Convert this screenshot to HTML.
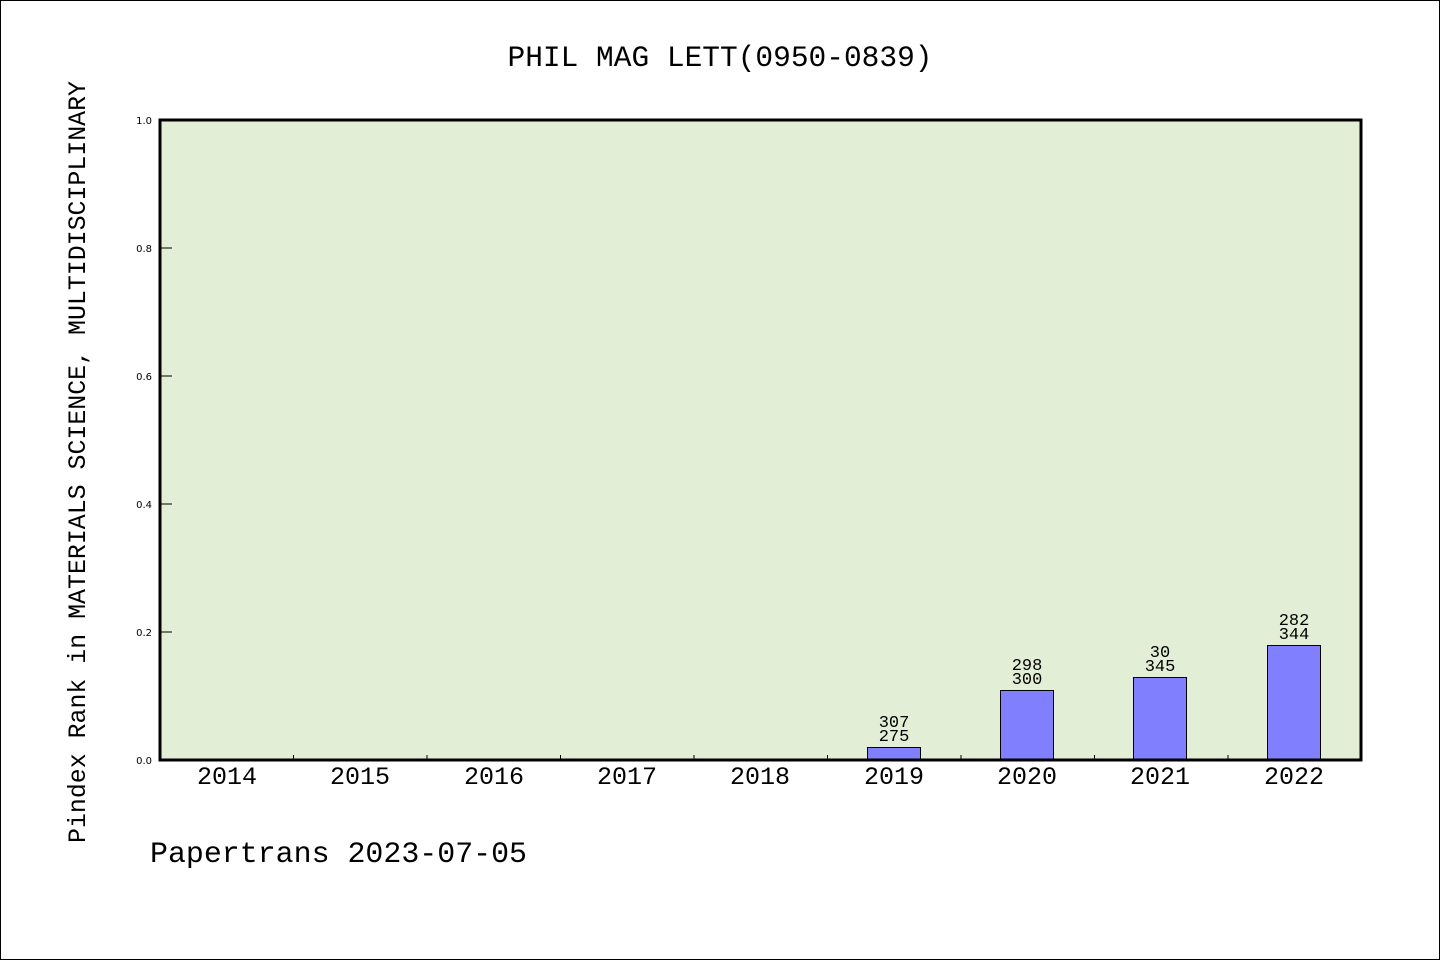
<!DOCTYPE html>
<html><head><meta charset="utf-8"><style>html,body{margin:0;padding:0;background:#fff}svg{display:block}</style></head>
<body>
<svg width="1440" height="960" xmlns="http://www.w3.org/2000/svg" font-family="'WenQuanYi Zen Hei','Liberation Mono',monospace">
<rect x="0.5" y="0.5" width="1439" height="959" fill="#fff" stroke="#000"/>
<text x="720" y="66" font-size="30" text-anchor="middle" textLength="425" lengthAdjust="spacingAndGlyphs">PHIL MAG LETT(0950-0839)</text>
<rect x="160" y="120" width="1201" height="640" fill="#e2efd6"/>
<g font-family="'DejaVu Sans',sans-serif" font-size="10" text-anchor="end">
<text x="152" y="124">1.0</text><text x="152" y="252">0.8</text><text x="152" y="380">0.6</text><text x="152" y="508">0.4</text><text x="152" y="636">0.2</text><text x="152" y="764">0.0</text>
</g>
<g stroke="#000" stroke-width="1">
<line x1="160" y1="248" x2="172" y2="248"/><line x1="160" y1="376" x2="172" y2="376"/><line x1="160" y1="504" x2="172" y2="504"/><line x1="160" y1="632" x2="172" y2="632"/>
<line x1="293.5" y1="755" x2="293.5" y2="760"/><line x1="427" y1="755" x2="427" y2="760"/><line x1="560.5" y1="755" x2="560.5" y2="760"/><line x1="694" y1="755" x2="694" y2="760"/><line x1="827.5" y1="755" x2="827.5" y2="760"/><line x1="961" y1="755" x2="961" y2="760"/><line x1="1094.5" y1="755" x2="1094.5" y2="760"/><line x1="1228" y1="755" x2="1228" y2="760"/>
</g>
<g fill="#8080ff" stroke="#000" stroke-width="1">
<rect x="867.5" y="747.5" width="53" height="13"/>
<rect x="1000.5" y="690.5" width="53" height="70"/>
<rect x="1133.5" y="677.5" width="53" height="83"/>
<rect x="1267.5" y="645.5" width="53" height="115"/>
</g>
<rect x="160" y="120" width="1201" height="640" fill="none" stroke="#000" stroke-width="3"/>
<g font-size="17" text-anchor="middle">
<text x="894" y="727">307</text><text x="894" y="741">275</text>
<text x="1027" y="670">298</text><text x="1027" y="684">300</text>
<text x="1160" y="657">30</text><text x="1160" y="671">345</text>
<text x="1294" y="625">282</text><text x="1294" y="639">344</text>
</g>
<g font-size="25" text-anchor="middle">
<text x="227" y="784">2014</text><text x="360" y="784">2015</text><text x="494" y="784">2016</text><text x="627" y="784">2017</text><text x="760" y="784">2018</text><text x="894" y="784">2019</text><text x="1027" y="784">2020</text><text x="1160" y="784">2021</text><text x="1294" y="784">2022</text>
</g>
<text transform="translate(85,462) rotate(-90)" font-size="25" text-anchor="middle" textLength="762" lengthAdjust="spacingAndGlyphs">Pindex Rank in MATERIALS SCIENCE, MULTIDISCIPLINARY</text>
<text x="150" y="862" font-size="30" textLength="377" lengthAdjust="spacingAndGlyphs">Papertrans 2023-07-05</text>
</svg>
</body></html>
